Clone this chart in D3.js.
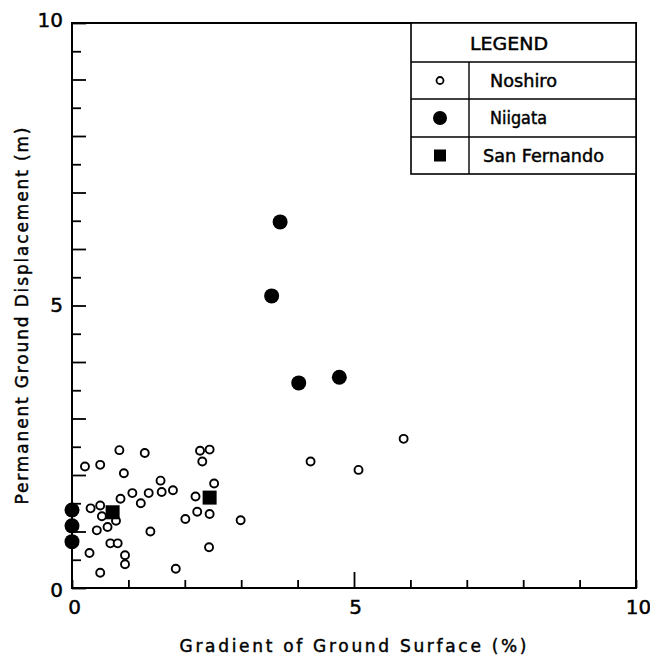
<!DOCTYPE html>
<html>
<head>
<meta charset="utf-8">
<script src="https://cdn.jsdelivr.net/npm/d3@7"></script>
<style>
  body { margin: 0; background: #fff; }
  svg { display: block; font-family: "DejaVu Sans", sans-serif; }
  svg text { fill: #000; stroke: #000; stroke-width: 0.45px; }
</style>
</head>
<body>
<svg width="650" height="657"></svg>
<script>
// data (gradient %, displacement m)
var noshiroX = [0.23, 0.50, 0.84, 1.29, 0.92, 2.27, 2.44, 2.31, 2.52, 1.57, 1.59, 1.79, 1.36, 1.07,
                0.86, 1.22, 2.19, 0.33, 0.50, 0.53, 0.78, 0.63, 0.44, 1.39, 2.01, 2.22, 2.44, 2.99,
                4.23, 5.08, 5.88, 0.68, 0.81, 0.31, 0.94, 0.94, 0.50, 1.84, 2.43];
var noshiroY = [2.15, 2.18, 2.44, 2.39, 2.03, 2.43, 2.45, 2.24, 1.85, 1.90, 1.70, 1.73, 1.68, 1.68,
                1.58, 1.50, 1.62, 1.41, 1.46, 1.27, 1.19, 1.08, 1.02, 1.00, 1.22, 1.35, 1.31, 1.20,
                2.24, 2.09, 2.64, 0.79, 0.79, 0.62, 0.58, 0.42, 0.27, 0.34, 0.72];
var niigataX = [3.69, 3.54, 4.02, 4.74, 0, 0, 0];
var niigataY = [6.48, 5.17, 3.63, 3.73, 1.38, 1.10, 0.82];
var sanFernandoX = [0.72, 2.44];
var sanFernandoY = [1.34, 1.60];

var legendNames = ["Noshiro", "Niigata", "San Fernando"];
var tickLabels = [0, 5, 10];

var svg = d3.select("svg");

var x = d3.scaleLinear().domain([0, 10]).range([72, 636]);
var y = d3.scaleLinear().domain([0, 10]).range([588, 23]);

// frame
svg.append("rect")
    .attr("x", x(0)).attr("y", y(10))
    .attr("width", x(10) - x(0)).attr("height", y(0) - y(10))
    .attr("fill", "none").attr("stroke", "#000").attr("stroke-width", 2);

// x axis, ticks pointing inward
var xAxis = svg.append("g")
    .attr("transform", "translate(0," + y(0) + ")")
    .call(d3.axisBottom(x)
        .tickValues(d3.range(0, 11))
        .tickSizeInner(-8)
        .tickSizeOuter(0)
        .tickPadding(12)
        .tickFormat(function(d) { return tickLabels.indexOf(d) >= 0 ? d : ""; }));
xAxis.select(".domain").remove();
xAxis.selectAll(".tick line")
    .attr("stroke-width", 1.8)
    .attr("y2", function(d) { return d == 5 ? -16 : -8; });
xAxis.selectAll(".tick text")
    .attr("font-size", 20)
    .attr("font-family", "DejaVu Sans")
    .attr("dy", "0.95em")
    .attr("y", 7)
    .attr("x", function(d) { return d == 0 ? 2 : (d == 10 ? 2 : 1); });

// y axis, ticks every half unit
var yAxis = svg.append("g")
    .attr("transform", "translate(" + x(0) + ",0)")
    .call(d3.axisLeft(y)
        .tickValues(d3.range(0, 10.5, 0.5))
        .tickSizeInner(-9)
        .tickSizeOuter(0)
        .tickPadding(18)
        .tickFormat(function(d) { return tickLabels.indexOf(d) >= 0 ? d : ""; }));
yAxis.select(".domain").remove();
yAxis.selectAll(".tick line")
    .attr("stroke-width", 1.8)
    .attr("x2", function(d) { return d % 1 == 0 ? 14 : 9; });
yAxis.selectAll(".tick text")
    .attr("font-size", 20)
    .attr("font-family", "DejaVu Sans")
    .attr("x", -9)
    .attr("y", function(d) { return d == 0 ? 2 : (d == 10 ? -3 : 0); });

// axis titles
svg.append("text")
    .attr("x", 353).attr("y", 652)
    .attr("text-anchor", "middle")
    .attr("font-size", 17)
    .attr("textLength", 347).attr("lengthAdjust", "spacing")
    .text("Gradient of Ground Surface (%)");

svg.append("text")
    .attr("transform", "translate(28,316) rotate(-90)")
    .attr("text-anchor", "middle")
    .attr("font-size", 17)
    .attr("textLength", 377).attr("lengthAdjust", "spacing")
    .text("Permanent Ground Displacement (m)");

// points
svg.append("g").selectAll("circle")
    .data(d3.range(noshiroX.length))
  .enter().append("circle")
    .attr("cx", function(i) { return x(noshiroX[i]); })
    .attr("cy", function(i) { return y(noshiroY[i]); })
    .attr("r", 4)
    .attr("fill", "#fff")
    .attr("stroke", "#000")
    .attr("stroke-width", 1.9);

svg.append("g").selectAll("circle")
    .data(d3.range(niigataX.length))
  .enter().append("circle")
    .attr("cx", function(i) { return x(niigataX[i]); })
    .attr("cy", function(i) { return y(niigataY[i]); })
    .attr("r", 7.5)
    .attr("fill", "#000");

svg.append("g").selectAll("rect")
    .data(d3.range(sanFernandoX.length))
  .enter().append("rect")
    .attr("x", function(i) { return x(sanFernandoX[i]) - 7; })
    .attr("y", function(i) { return y(sanFernandoY[i]) - 7; })
    .attr("width", 14).attr("height", 14)
    .attr("fill", "#000");

// legend table
var lg = svg.append("g");
var lx0 = 411, lx1 = 636, ldiv = 469;
var rowsY = [23, 62, 99, 137, 174];

lg.append("rect")
    .attr("x", lx0).attr("y", rowsY[0])
    .attr("width", lx1 - lx0).attr("height", rowsY[4] - rowsY[0])
    .attr("fill", "#fff").attr("stroke", "#000").attr("stroke-width", 1.6);
lg.selectAll("line.row")
    .data(rowsY.slice(1, 4))
  .enter().append("line")
    .attr("x1", lx0).attr("x2", lx1)
    .attr("y1", function(d) { return d; }).attr("y2", function(d) { return d; })
    .attr("stroke", "#000").attr("stroke-width", 1.4);
lg.append("line")
    .attr("x1", ldiv).attr("x2", ldiv)
    .attr("y1", rowsY[1]).attr("y2", rowsY[4])
    .attr("stroke", "#000").attr("stroke-width", 1.4);

lg.append("text")
    .attr("x", 470).attr("y", 50)
    .attr("font-size", 17)
    .attr("textLength", 78).attr("lengthAdjust", "spacingAndGlyphs")
    .text("LEGEND");

var labelX = [490, 490, 483];
var labelW = [67, 57, 121];
legendNames.forEach(function(name, i) {
  var cy = (rowsY[i + 1] + rowsY[i + 2]) / 2;
  var cx = (lx0 + ldiv) / 2;
  if (i == 0) {
    lg.append("circle").attr("cx", cx).attr("cy", cy).attr("r", 3.5)
        .attr("fill", "#fff").attr("stroke", "#000").attr("stroke-width", 1.8);
  } else if (i == 1) {
    lg.append("circle").attr("cx", cx).attr("cy", cy).attr("r", 7).attr("fill", "#000");
  } else {
    lg.append("rect").attr("x", cx - 6).attr("y", cy - 6)
        .attr("width", 12).attr("height", 12).attr("fill", "#000");
  }
  lg.append("text")
      .attr("x", labelX[i]).attr("y", cy + 6)
      .attr("font-size", 17)
      .attr("textLength", labelW[i]).attr("lengthAdjust", "spacingAndGlyphs")
      .text(name);
});
</script>
</body>
</html>
